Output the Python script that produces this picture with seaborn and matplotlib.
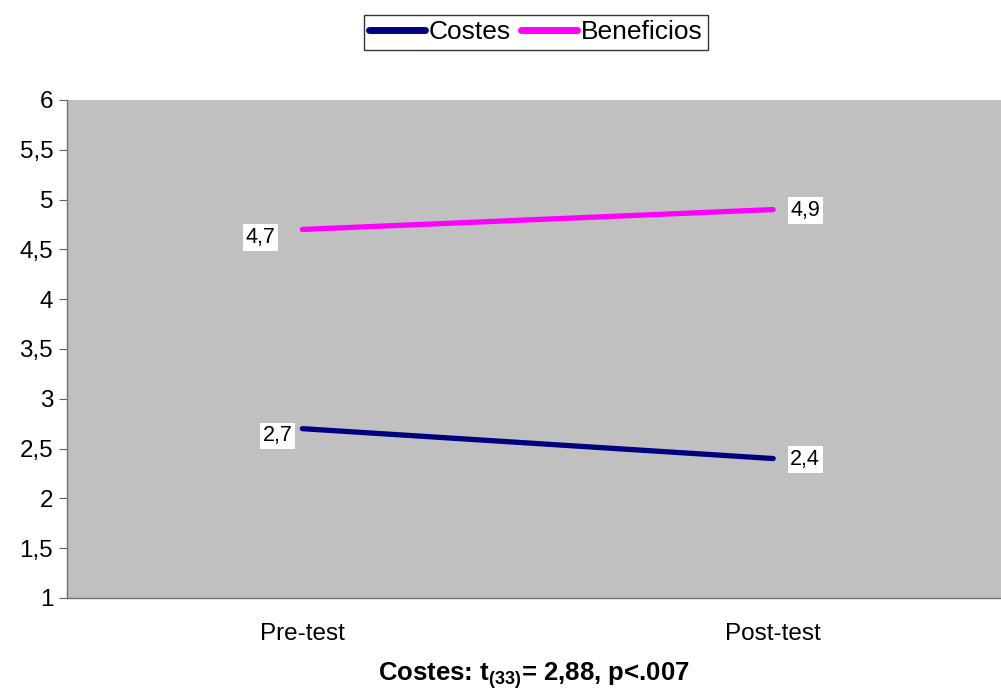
import matplotlib
matplotlib.use("Agg")
import matplotlib.pyplot as plt
import seaborn as sns
import pandas as pd
from matplotlib.ticker import FuncFormatter, MultipleLocator

# Datos del grafico
momentos = ["Pre-test", "Post-test"]
costes = [2.7, 2.4]
beneficios = [4.7, 4.9]
series = ["Costes", "Beneficios"]
colores = {"Costes": "#000080", "Beneficios": "#FF00FF"}

df = pd.DataFrame({
    "momento": momentos * 2,
    "valor": costes + beneficios,
    "serie": [series[0]] * len(momentos) + [series[1]] * len(momentos),
})

sns.set_style("white")
plt.rcParams["font.family"] = ["Liberation Sans", "DejaVu Sans"]
plt.rcParams["text.color"] = "black"
plt.rcParams["axes.labelcolor"] = "black"
plt.rcParams["xtick.labelcolor"] = "black"
plt.rcParams["ytick.labelcolor"] = "black"
plt.rcParams["mathtext.fontset"] = "custom"
plt.rcParams["mathtext.rm"] = "Liberation Sans:bold"
plt.rcParams["mathtext.bf"] = "Liberation Sans:bold"
plt.rcParams["mathtext.it"] = "Liberation Sans:bold"

fig = plt.figure(figsize=(10.01, 6.91), dpi=100)
ax = fig.add_axes([0.067, 0.1346, 0.933, 0.7207])
ax.set_facecolor("#C0C0C0")

sns.lineplot(data=df, x="momento", y="valor", hue="serie", palette=colores,
             linewidth=3.8, ax=ax, legend=True)

ax.set_xlim(-0.5, 1.484)
ax.set_ylim(1, 6)
ax.yaxis.set_major_locator(MultipleLocator(0.5))
ax.yaxis.set_major_formatter(FuncFormatter(lambda v, p: f"{v:g}".replace(".", ",")))
ax.set_xticks([0, 1])
ax.set_xticklabels(momentos)
ax.set_xticks([-0.5, 0.5], minor=True)
ax.tick_params(axis="x", which="major", length=0, pad=18, labelsize=17.5, labelcolor="black")
ax.tick_params(axis="x", which="minor", length=6, color="#606060", direction="out")
ax.tick_params(axis="y", length=6, color="#606060", direction="out", labelsize=17.5,
               left=True, pad=4, labelcolor="black")

for s in ["top", "right"]:
    ax.spines[s].set_visible(False)
for s in ["left", "bottom"]:
    ax.spines[s].set_color("#707070")
    ax.spines[s].set_linewidth(1)

ax.set_ylabel("")
ax.set_xlabel(r"Costes: t$_{(33)}$= 2,88, p<.007", fontsize=18.5, fontweight="bold",
              labelpad=11, color="black")

# etiquetas de datos
offsets = {
    ("Costes", 0): (-25, -7), ("Costes", 1): (32, -1),
    ("Beneficios", 0): (-42, -8), ("Beneficios", 1): (32, -1),
}
for serie, vals in zip(series, [costes, beneficios]):
    for i, v in enumerate(vals):
        ax.annotate(f"{v:.1f}".replace(".", ","), xy=(i, v), xytext=offsets[(serie, i)],
                    textcoords="offset pixels", ha="center", va="center", fontsize=15.5,
                    color="black",
                    bbox=dict(boxstyle="square,pad=0.12", fc="white", ec="none"))

leg = ax.legend(loc="center", bbox_to_anchor=(0.502, 1.136), ncol=2, frameon=True,
                fontsize=19, handlelength=2.1, handletextpad=0.15, columnspacing=0.4,
                borderpad=0.2, fancybox=False, edgecolor="black", borderaxespad=0)
leg.get_frame().set_linewidth(1)
for t in leg.get_texts():
    t.set_color("black")
for line in leg.get_lines():
    line.set_linewidth(5)
    line.set_solid_capstyle("round")

fig.savefig("out.png", dpi=100)
